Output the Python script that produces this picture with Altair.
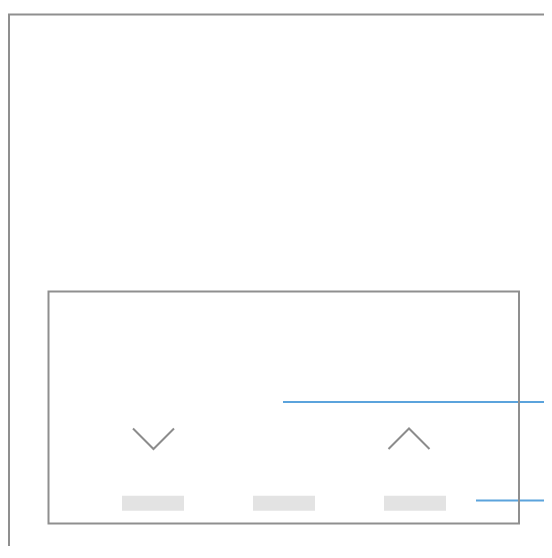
import altair as alt
import pandas as pd

W, H = 536, 538
OFF = 8

# Frame rectangles (page pixel coordinates)
frame_names = ["outer", "inner"]
frame_x0 = [9, 48.5]
frame_x1 = [620, 519]
frame_y0 = [14.5, 291.5]
frame_y1 = [620, 523.5]

# Placeholder bars
bar_x0 = [122, 253, 384]
bar_x1 = [184, 315, 446]
bar_y0 = [495.8, 495.8, 495.8]
bar_y1 = [510.8, 510.8, 510.8]

# Chevrons
chev_down_x = [133, 153.5, 174]
chev_down_y = [428.5, 449, 428.5]
chev_up_x = [388.5, 409, 429.5]
chev_up_y = [449, 428.5, 449]

# Blue leader lines
lead_x0 = [283, 476]
lead_x1 = [620, 620]
lead_y = [402, 500.5]

xs = alt.Scale(domain=[OFF, OFF + W])
ys = alt.Scale(domain=[OFF, OFF + H], reverse=True)

def X(f):
    return alt.X(f, type="quantitative", scale=xs, axis=None)

def Y(f):
    return alt.Y(f, type="quantitative", scale=ys, axis=None)

frames = pd.DataFrame({"name": frame_names, "x0": frame_x0, "x1": frame_x1, "y0": frame_y0, "y1": frame_y1})
bars = pd.DataFrame({"x0": bar_x0, "x1": bar_x1, "y0": bar_y0, "y1": bar_y1})
chev = pd.DataFrame({
    "x": chev_down_x + chev_up_x,
    "y": chev_down_y + chev_up_y,
    "g": ["down"] * 3 + ["up"] * 3,
    "o": [0, 1, 2, 0, 1, 2],
})
leads = pd.DataFrame({"x0": lead_x0, "x1": lead_x1, "y": lead_y})

outer = alt.Chart(frames.iloc[[0]]).mark_rect(fill=None, stroke="#8f8f8f", strokeWidth=2).encode(
    x=X("x0"), x2="x1", y=Y("y0"), y2="y1")
lead_layer = alt.Chart(leads).mark_rule(color="#5ba3dc", strokeWidth=2).encode(
    x=X("x0"), x2="x1", y=Y("y"))
inner = alt.Chart(frames.iloc[[1]]).mark_rect(fill=None, stroke="#8f8f8f", strokeWidth=2).encode(
    x=X("x0"), x2="x1", y=Y("y0"), y2="y1")
bar_layer = alt.Chart(bars).mark_rect(color="#e3e3e3").encode(
    x=X("x0"), x2="x1", y=Y("y0"), y2="y1")
chev_layer = alt.Chart(chev).mark_line(color="#8c8c8c", strokeWidth=2).encode(
    x=X("x"), y=Y("y"), detail="g:N", order="o:Q")

chart = alt.layer(outer, lead_layer, inner, bar_layer, chev_layer).properties(
    width=W, height=H, padding=0, autosize=alt.AutoSizeParams(type="none")
).configure_view(stroke=None)

chart.save("out.html", embed_options={"renderer": "svg", "actions": False})
